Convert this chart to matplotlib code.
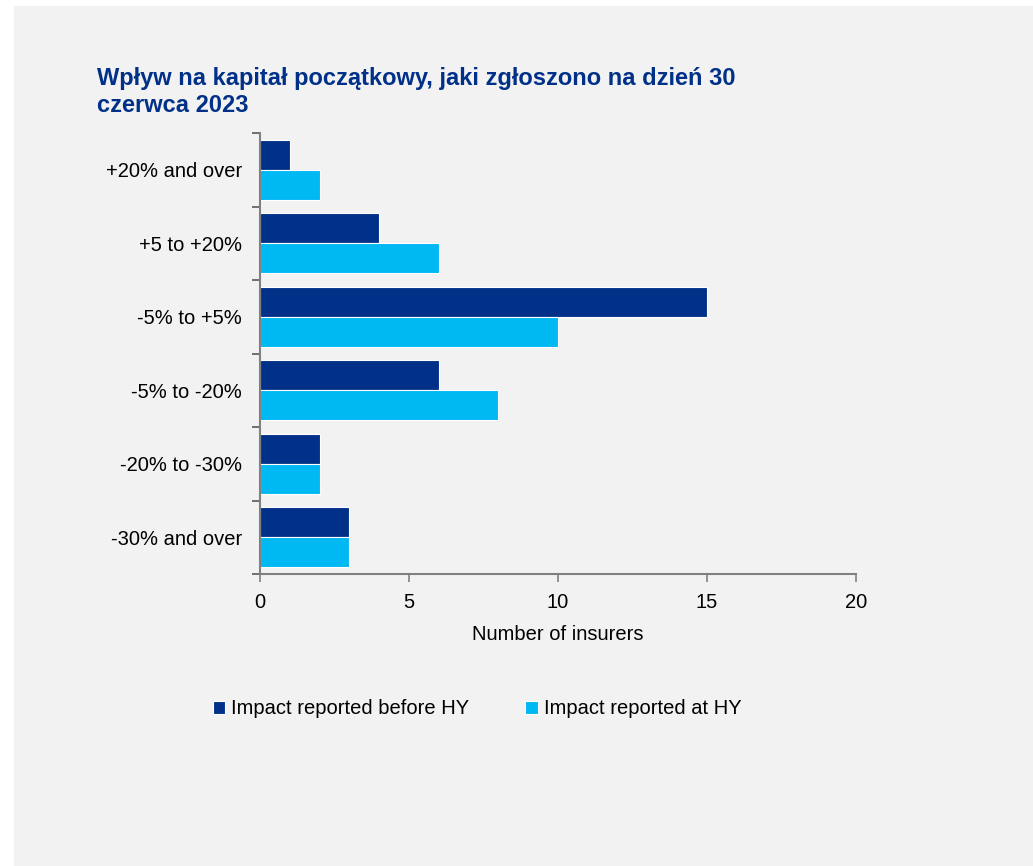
import numpy as np
import matplotlib.pyplot as plt
from matplotlib.patches import Rectangle

plt.rcParams['font.family'] = ['Liberation Sans', 'DejaVu Sans']

# Data (top to bottom)
categories = ['+20% and over', '+5 to +20%', '-5% to +5%', '-5% to -20%', '-20% to -30%', '-30% and over']
before_hy = [1, 4, 15, 6, 2, 3]
at_hy = [2, 6, 10, 8, 2, 3]
title_lines = ['Wpływ na kapitał początkowy, jaki zgłoszono na dzień 30', 'czerwca 2023']

dark = '#003087'
light = '#00B8F2'
bg = '#f2f2f2'
fs = 14.5

fig = plt.figure(figsize=(10.33, 8.66), dpi=100)
fig.patch.set_facecolor('white')
# gray panel with a thin white margin on the left and top
fig.patches.append(Rectangle((14 / 1033, 0), 1, 1 - 6 / 866, transform=fig.transFigure,
                             facecolor=bg, edgecolor='none', zorder=-10))

ax = fig.add_axes([260 / 1033, 1 - 574 / 866, 596 / 1033, 441 / 866])
ax.set_facecolor(bg)

y = np.arange(len(categories))
h = 0.41
ax.barh(y - h / 2, before_hy, height=h, color=dark, edgecolor='white', linewidth=0.8,
        label='Impact reported before HY')
ax.barh(y + h / 2, at_hy, height=h, color=light, edgecolor='white', linewidth=0.8,
        label='Impact reported at HY')

ax.set_ylim(len(categories) - 0.5, -0.5)
ax.set_xlim(0, 20)
ax.set_xticks([0, 5, 10, 15, 20])
ax.set_yticks(y)
ax.set_yticklabels(categories)
ax.set_yticks(np.arange(-0.5, len(categories)), minor=True)
ax.tick_params(axis='y', which='major', length=0, pad=13, labelsize=fs)
ax.tick_params(axis='y', which='minor', length=6, color='#595959', width=1.2)
ax.tick_params(axis='x', length=6, color='#808080', width=1.2, labelsize=fs, pad=8)

for s in ['top', 'right']:
    ax.spines[s].set_visible(False)
for s in ['left', 'bottom']:
    ax.spines[s].set_color('#808080')
    ax.spines[s].set_linewidth(1.5)

ax.set_xlabel('Number of insurers', fontsize=fs, labelpad=9)

for i, line in enumerate(title_lines):
    fig.text(97 / 1033, 1 - (85 + 27 * i) / 866, line, fontsize=17, fontweight='bold',
             color=dark, ha='left', va='baseline')

fig.legend(loc='center', bbox_to_anchor=(477 / 1033, 1 - 709 / 866), ncol=2, frameon=False,
           fontsize=fs, handlelength=0.6, handleheight=0.6, handletextpad=0.3, columnspacing=2.8)

fig.savefig('out.png', dpi=100, facecolor=fig.get_facecolor())
